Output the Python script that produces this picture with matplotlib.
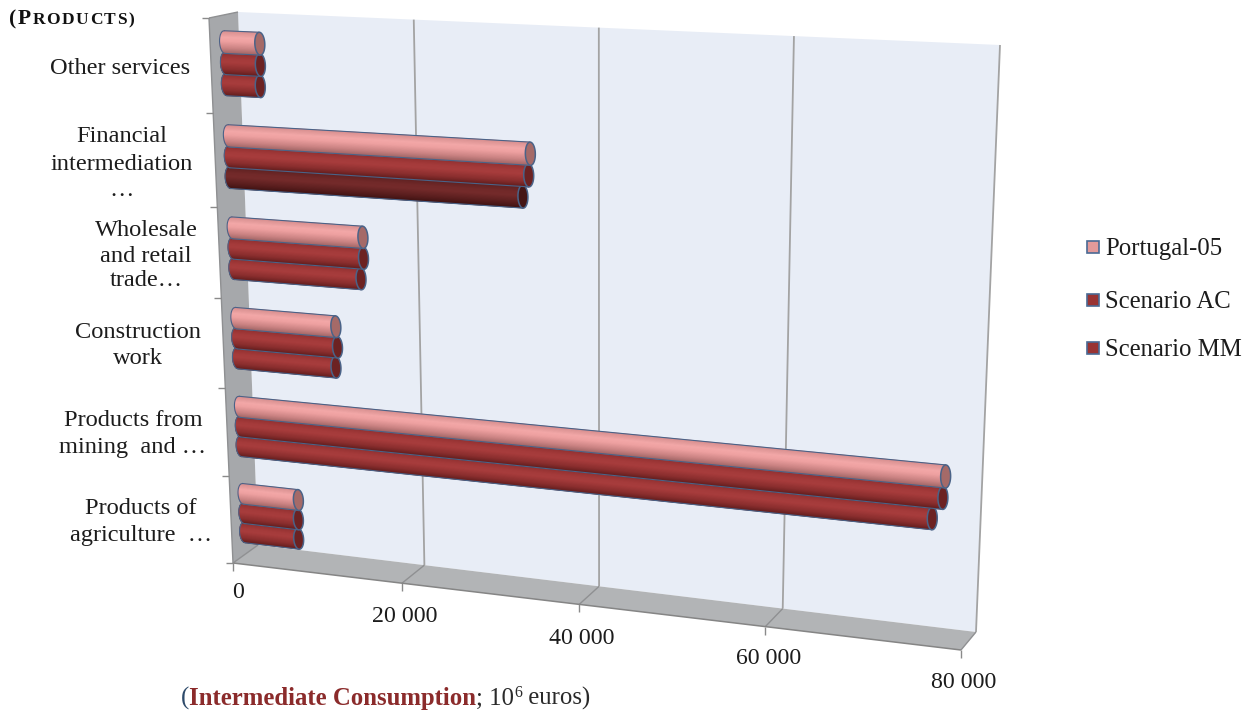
import numpy as np
import matplotlib
matplotlib.use("Agg")
import matplotlib.pyplot as plt

plt.rcParams['font.family'] = ['Liberation Serif', 'DejaVu Serif']

# values in 10^6 euros, categories listed from the bottom of the axis upward
categories = [["Products of", "agriculture  …"],
              ["Products from", "mining  and …"],
              ["Construction", "work"],
              ["Wholesale", "and retail", "trade…"],
              ["Financial", "intermediation", "…"],
              ["Other services"]]
series_names = ["Portugal-05", "Scenario AC", "Scenario MM"]
portugal_05 = [6680, 77160, 11780, 15200, 33950, 4080]
scenario_ac = [6600, 76960, 11900, 15200, 33750, 4050]
scenario_mm = [6550, 75970, 11650, 14850, 33100, 3950]
x_ticks = [0, 20000, 40000, 60000, 80000]
x_max = 80000
n_cat = 6

W, H = 1254, 715


def homography(corners):
    # maps (value, category) to pixels, corners = BL, BR, TR, TL of the plane
    src = [(0, 0), (x_max, 0), (x_max, n_cat), (0, n_cat)]
    A, b = [], []
    for (u, v), (x, y) in zip(src, corners):
        A.append([u, v, 1, 0, 0, 0, -u * x, -v * x])
        A.append([0, 0, 0, u, v, 1, -u * y, -v * y])
        b += [x, y]
    h = np.linalg.solve(np.array(A, float), np.array(b, float))
    return np.append(h, 1).reshape(3, 3)


def project(m, v, c):
    p = m @ np.array([v, c, 1.0])
    return p[:2] / p[2]


back = homography([(258, 545), (976, 632), (1000, 45), (238, 12)])
front = homography([(233, 563), (961, 650), (981, 51), (209, 18)])
mid = homography([(245.5, 556), (968.5, 643), (990, 48), (223.5, 16)])

fig = plt.figure(figsize=(W / 100, H / 100), dpi=100)
ax = fig.add_axes([0, 0, 1, 1])
ax.set_xlim(0, W)
ax.set_ylim(H, 0)
ax.axis('off')


def quad(m1, m2, v1, c1, v2, c2, **kw):
    pts = [project(m1, v1, c1), project(m1, v2, c2),
           project(m2, v2, c2), project(m2, v1, c1)]
    ax.fill(*zip(*pts), **kw)


def seg(a, b, **kw):
    ax.plot([a[0], b[0]], [a[1], b[1]], solid_capstyle='butt', **kw)


# walls and floor
ax.fill(*zip(*[project(back, 0, 0), project(back, x_max, 0),
               project(back, x_max, n_cat), project(back, 0, n_cat)]),
        color='#e8edf6', lw=0, zorder=1)
quad(back, front, 0, 0, 0, n_cat, color='#a6a8ab', lw=0, zorder=1)
quad(back, front, 0, 0, x_max, 0, color='#b2b4b6', lw=0, zorder=1)

grid_c = '#a3a3a3'
for t in x_ticks:
    if 0 < t:
        seg(project(back, t, 0), project(back, t, n_cat), color=grid_c, lw=1.3, zorder=2)
    seg(project(back, t, 0), project(front, t, 0), color='#8f9092', lw=1, zorder=2)
    f = project(front, t, 0)
    seg(f, f + [0, 8], color='#8a8a8a', lw=1, zorder=2)
seg(project(front, 0, 0), project(front, x_max, 0), color='#858585', lw=1.1, zorder=2)
seg(project(back, 0, n_cat), project(front, 0, n_cat), color='#8f9092', lw=1, zorder=2)
seg(project(front, 0, 0), project(front, 0, n_cat), color='#8f9092', lw=1, zorder=2)
for c in range(n_cat + 1):
    f = project(front, 0, c)
    seg(f, f + [-7, 0], color='#8a8a8a', lw=1, zorder=2)

# cylinders
shade_t = [-1, -0.5, 0.1, 0.45, 1]
pink = ['#9c6262', '#c98282', '#eea0a0', '#f3a8a8', '#d89090']
red = ['#5e1c1c', '#8a2e2e', '#a73c3c', '#a53b3b', '#8e2f2f']
dark = ['#3c1212', '#5a1e1e', '#742a2a', '#722929', '#5c2020']
edge_c = '#4a6388'
radius = 0.12
cap_a = 5.0
spacing = 0.225


def rgb(hexes):
    return np.array([matplotlib.colors.to_rgb(h) for h in hexes])


def cylinder(c, value, stops, cap_col, zorder):
    stops = rgb(stops)
    start = project(mid, 0, c)
    end = project(mid, value, c)
    d = (end - start) / np.hypot(*(end - start))
    ts = np.linspace(-1, 1, 41)
    rows = []
    for t in ts:
        bulge = cap_a * np.sqrt(max(0, 1 - t * t))
        rows.append((project(mid, 0, c + t * radius) - d * bulge,
                     project(mid, value, c + t * radius)))
    for i in range(len(ts) - 1):
        col = [np.interp((ts[i] + ts[i + 1]) / 2, shade_t, stops[:, k]) for k in range(3)]
        pts = [rows[i][0], rows[i][1], rows[i + 1][1], rows[i + 1][0]]
        ax.fill(*zip(*pts), color=col, lw=0.5, zorder=zorder)
    outline = [r[0] for r in rows]
    ax.plot(*zip(*outline), color=edge_c, lw=0.8, zorder=zorder)
    seg(rows[0][0], rows[0][1], color=edge_c, lw=0.8, zorder=zorder)
    seg(rows[-1][0], rows[-1][1], color=edge_c, lw=0.8, zorder=zorder)
    # end cap
    th = np.linspace(0, 2 * np.pi, 60)
    up = project(mid, value, c + radius) - end
    cap = np.array([end + cap_a * np.cos(a) * d + up * np.sin(a) for a in th])
    ax.fill(cap[:, 0], cap[:, 1], facecolor=cap_col, edgecolor=edge_c, lw=1.1, zorder=zorder + 0.5)


all_series = [scenario_mm, scenario_ac, portugal_05]
offsets = [-spacing, 0, spacing]
stops_for = [red, red, pink]
caps_for = ['#6c2222', '#6c2222', '#a56a68']
z = 3
for i in range(n_cat):
    for s, off, st, cp in zip(all_series, offsets, stops_for, caps_for):
        # the lowest financial bar is drawn darker
        if i == 4 and s is scenario_mm:
            st, cp = dark, '#451616'
        cylinder(i + 0.5 + off, s[i], st, cp, z)
        z += 1

# category labels
txt = '#1c1c1c'
label_x = [141, 133, 138, 146, 122, 120]
label_y = [[508, 536], [420, 448], [333, 358], [230, 256, 281], [137, 165, 190], [68]]
for lines, lx, ys in zip(categories, label_x, label_y):
    for line, ly in zip(lines, ys):
        ax.text(lx, ly, line, ha='center', va='center', fontsize=17.6, color=txt, zorder=50)

# value labels
tick_pos = [(238, 592), (405, 616), (582, 638), (769, 659), (964, 682)]
for t, (px, py) in zip(x_ticks, tick_pos):
    s = f"{t:,}".replace(",", " ")
    ax.text(px, py, s, ha='center', va='center', fontsize=17.2, color=txt, zorder=50)


def chain(x, y, pieces, gap=0):
    # lays text pieces one after another along a baseline
    r = fig.canvas.get_renderer()
    for s, size, col, weight, dy in pieces:
        t = ax.text(x, y + dy, s, fontsize=size, color=col, weight=weight,
                    ha='left', va='baseline', zorder=50)
        x += t.get_window_extent(r).width + gap


head_c = '#111111'
chain(9, 24, [("(", 15.5, head_c, 'bold', 0), ("P", 15.5, head_c, 'bold', 0)]
      + [(ch, 12.5, head_c, 'bold', 0) for ch in "RODUCTS)"], gap=1.5)
chain(181, 705, [("(", 17.8, '#2d4a6a', 'normal', 0),
                 ("Intermediate Consumption", 17.8, '#8b2b2b', 'bold', 0),
                 ("; 10", 17.8, '#2a2a2a', 'normal', 0),
                 ("6", 11.5, '#2a2a2a', 'normal', -8),
                 (" euros)", 17.8, '#2a2a2a', 'normal', 0)])

# legend
legend_y = [247, 300, 348]
legend_c = ['#e39a9a', '#993333', '#993333']
for name, ly, col in zip(series_names, legend_y, legend_c):
    ax.fill([1087, 1099, 1099, 1087], [ly - 6, ly - 6, ly + 6, ly + 6],
            facecolor=col, edgecolor='#4a6a94', lw=1.2, zorder=50)
    ax.text(1105, ly + 2, name, ha='left', va='center', fontsize=17.8, color=txt, zorder=50)

fig.savefig('out.png', dpi=100)
